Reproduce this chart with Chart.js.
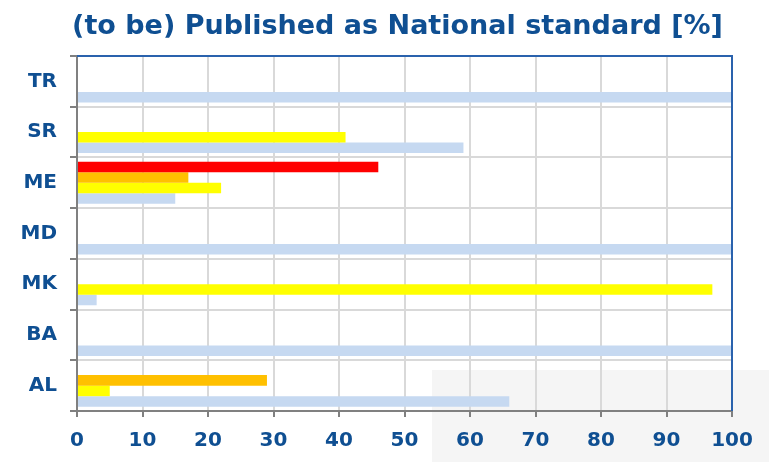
<!DOCTYPE html>
<html lang="en">
<head>
    <meta charset="UTF-8">
    <title>Published as National standard</title>
    <script src="https://cdn.jsdelivr.net/npm/chart.js"></script>
    <style>
        body {
            margin: 0;
            padding: 0;
            background: white;
            overflow: hidden;
        }
        #chart-container {
            width: 769px;
            height: 462px;
            position: relative;
        }
    </style>
</head>
<body>
    <div id="chart-container">
        <canvas id="nat-chart"></canvas>
    </div>

    <script>
        // countries, top to bottom
        var countries = ['TR', 'SR', 'ME', 'MD', 'MK', 'BA', 'AL'];
        // four series (null = no bar)
        var redValues    = [null, null, 46, null, null, null, null];
        var orangeValues = [null, null, 17, null, null, null, 29];
        var yellowValues = [null, 41, 22, null, 97, null, 5];
        var blueValues   = [100, 59, 15, 100, 3, 100, 66];
        var xTicks = [0, 10, 20, 30, 40, 50, 60, 70, 80, 90, 100];
        var chartTitle = '(to be) Published as National standard [%]';

        var textBlue = '#0f4f92';

        // grey patch in the lower right corner, blue frame top/right, title text
        var framePlugin = {
            id: 'frame',
            beforeDraw: function (chart) {
                var c = chart.ctx;
                c.save();
                c.fillStyle = '#f5f5f5';
                c.fillRect(432, 370, 337, 92);
                c.restore();
            },
            afterDraw: function (chart) {
                var a = chart.chartArea;
                var c = chart.ctx;
                c.save();
                c.strokeStyle = '#2a62ad';
                c.lineWidth = 2;
                c.beginPath();
                c.moveTo(a.left, a.top);
                c.lineTo(a.right, a.top);
                c.lineTo(a.right, a.bottom);
                c.stroke();

                c.fillStyle = textBlue;
                c.font = 'bold 27px "DejaVu Sans"';
                c.textAlign = 'center';
                c.textBaseline = 'alphabetic';
                c.fillText(chartTitle, 397.5, 34);
                c.restore();
            }
        };

        function ds(label, data, color) {
            return {
                label: label,
                data: data,
                backgroundColor: color,
                borderWidth: 0,
                barPercentage: 1.0,
                categoryPercentage: 0.83
            };
        }

        var ctx = document.getElementById('nat-chart').getContext('2d');
        var chart = new Chart(ctx, {
            type: 'bar',
            data: {
                labels: countries,
                datasets: [
                    ds('red', redValues, '#ff0000'),
                    ds('orange', orangeValues, '#ffc000'),
                    ds('yellow', yellowValues, '#ffff00'),
                    ds('blue', blueValues, '#c6d9f1')
                ]
            },
            plugins: [framePlugin],
            options: {
                indexAxis: 'y',
                responsive: true,
                maintainAspectRatio: false,
                animation: false,
                layout: {
                    padding: { left: 0, right: 37, top: 56, bottom: 0 }
                },
                plugins: {
                    legend: { display: false },
                    tooltip: { enabled: false },
                    title: { display: false }
                },
                scales: {
                    x: {
                        min: 0,
                        max: 100,
                        afterBuildTicks: function (s) {
                            s.ticks = xTicks.map(function (v) { return { value: v }; });
                        },
                        afterFit: function (s) { s.height = 51; },
                        grid: {
                            color: '#d9d9d9',
                            lineWidth: 2,
                            tickColor: '#808080',
                            tickLength: 6,
                            tickWidth: 2
                        },
                        border: { color: '#808080', width: 2 },
                        ticks: {
                            color: textBlue,
                            padding: 12,
                            maxRotation: 0,
                            font: { family: 'DejaVu Sans', size: 20, weight: 'bold' }
                        }
                    },
                    y: {
                        afterFit: function (s) { s.width = 77; },
                        grid: {
                            offset: true,
                            color: '#d9d9d9',
                            lineWidth: 2,
                            tickColor: '#808080',
                            tickLength: 7,
                            tickWidth: 2
                        },
                        border: { color: '#808080', width: 2 },
                        ticks: {
                            color: textBlue,
                            padding: 13,
                            font: { family: 'DejaVu Sans', size: 20, weight: 'bold' }
                        }
                    }
                }
            }
        });
    </script>
</body>
</html>
